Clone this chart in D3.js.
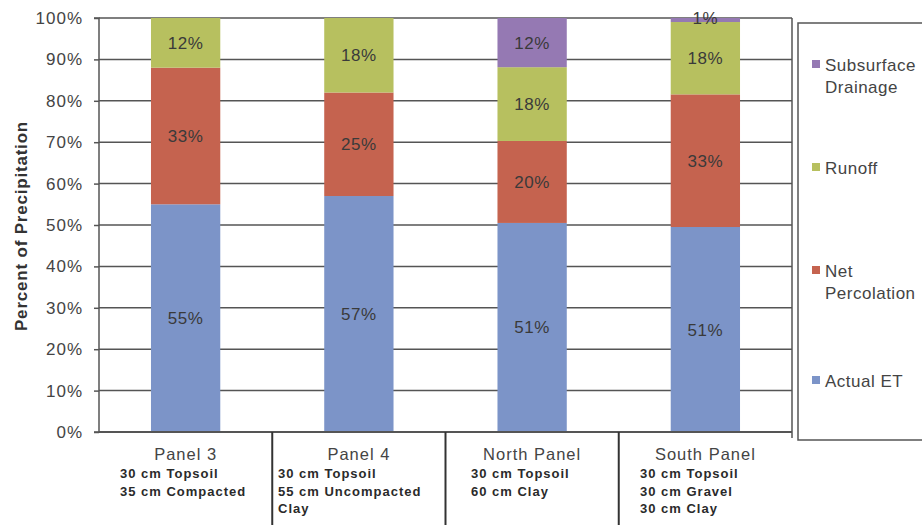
<!DOCTYPE html>
<html><head><meta charset="utf-8">
<script src="https://cdn.jsdelivr.net/npm/d3@7"></script>
<style>body{margin:0;background:#fff}svg{display:block;font-family:"Liberation Sans",Arial,sans-serif}</style>
</head><body><svg id="c" width="922" height="525"></svg>
<script>
const categories = ["Panel 3", "Panel 4", "North Panel", "South Panel"];
const subLabels = [
  ["30 cm Topsoil", "35 cm Compacted"],
  ["30 cm Topsoil", "55 cm Uncompacted", "Clay"],
  ["30 cm Topsoil", "60 cm Clay"],
  ["30 cm Topsoil", "30 cm Gravel", "30 cm Clay"]
];
const seriesNames = ["Actual ET", "Net Percolation", "Runoff", "Subsurface Drainage"];
const actualET = [55, 57, 51, 51];
const netPercolation = [33, 25, 20, 33];
const runoff = [12, 18, 18, 18];
const subsurfaceDrainage = [0, 0, 12, 1];
const yTicks = [0, 0.1, 0.2, 0.3, 0.4, 0.5, 0.6, 0.7, 0.8, 0.9, 1.0];
const colors = ["#7c94c8", "#c5634f", "#b7c05f", "#9579b3"];

const rows = categories.map((c, i) => ({
  cat: c,
  "Actual ET": actualET[i],
  "Net Percolation": netPercolation[i],
  "Runoff": runoff[i],
  "Subsurface Drainage": subsurfaceDrainage[i]
}));
const stacked = d3.stack().keys(seriesNames).offset(d3.stackOffsetExpand)(rows);

const svg = d3.select("#c");
const L = 99, R = 792, T = 18, B = 432;
const x = d3.scaleBand().domain(categories).range([L, R]).paddingInner(0.6).paddingOuter(0.3);
const y = d3.scaleLinear().domain([0, 1]).range([B, T]);
const gridColor = "#555";

// gridlines
svg.append("g").selectAll("line").data(yTicks.slice(1)).join("line")
  .attr("x1", L).attr("x2", R).attr("y1", d => y(d)).attr("y2", d => y(d))
  .attr("stroke", gridColor).attr("stroke-width", 1.5);

// bars
const sg = svg.append("g").selectAll("g").data(stacked).join("g")
  .attr("fill", (d, i) => colors[i]);
sg.selectAll("rect").data(d => d.map(p => ({p, key: d.key}))).join("rect")
  .attr("x", d => x(d.p.data.cat))
  .attr("width", x.bandwidth())
  .attr("y", d => y(d.p[1]))
  .attr("height", d => Math.max(0, y(d.p[0]) - y(d.p[1])));
// labels
sg.selectAll("text").data(d => d.map(p => ({p, key: d.key}))).join("text")
  .filter(d => d.p.data[d.key] > 0)
  .attr("x", d => x(d.p.data.cat) + x.bandwidth() / 2)
  .attr("y", d => {
    const mid = (y(d.p[0]) + y(d.p[1])) / 2;
    return d.p.data[d.key] < 3 ? y(1) + 6 : mid + 6;
  })
  .attr("text-anchor", "middle").attr("font-size", 17).attr("letter-spacing", 0.5).attr("fill", "#3a3a3a")
  .text(d => d.p.data[d.key] + "%");

// y axis
const ya = svg.append("g").attr("transform", `translate(${L},0)`)
  .call(d3.axisLeft(y).tickValues(yTicks).tickFormat(d3.format(".0%")).tickSize(5).tickPadding(11));
ya.select(".domain").attr("stroke", gridColor).attr("stroke-width", 1.5).attr("d", `M-5,${T}H0V${B}H-5`);
ya.selectAll(".tick line").attr("stroke", gridColor).attr("stroke-width", 1.5);
ya.selectAll(".tick text").attr("font-size", 17).attr("letter-spacing", 1).attr("fill", "#444")
  .attr("font-family", "Liberation Sans, Arial, sans-serif");

// right border line and x axis
svg.append("line").attr("x1", R).attr("x2", R).attr("y1", T).attr("y2", B + 6)
  .attr("stroke", gridColor).attr("stroke-width", 1.5);
svg.append("line").attr("x1", L).attr("x2", R).attr("y1", B).attr("y2", B)
  .attr("stroke", gridColor).attr("stroke-width", 2);
// category separators
const step = x.step();
const seps = categories.slice(1).map(c => x(c) - x.paddingInner() * step / 2);
svg.append("g").selectAll("line").data(seps).join("line")
  .attr("x1", d => d).attr("x2", d => d).attr("y1", B).attr("y2", 525)
  .attr("stroke", "#333").attr("stroke-width", 2);

// category labels
const subX = [120, 278, 471, 640];
const cg = svg.append("g").selectAll("g").data(categories).join("g");
cg.append("text").attr("x", d => x(d) + x.bandwidth() / 2).attr("y", 460)
  .attr("text-anchor", "middle").attr("font-size", 16.5).attr("letter-spacing", 1).attr("fill", "#444").text(d => d);
cg.each(function(d, i) {
  d3.select(this).selectAll("text.sub").data(subLabels[i]).join("text").attr("class", "sub")
    .attr("x", subX[i])
    .attr("y", (s, j) => 478 + j * 17.5)
    .attr("font-size", 13).attr("letter-spacing", 1).attr("font-weight", "bold").attr("fill", "#2a2a2a").text(s => s);
});

// y title
svg.append("text").attr("transform", "translate(27,226) rotate(-90)")
  .attr("text-anchor", "middle").attr("font-size", 17).attr("letter-spacing", 0.8).attr("font-weight", "bold").attr("fill", "#333")
  .text("Percent of Precipitation");

// legend
svg.append("rect").attr("x", 798).attr("y", 23).attr("width", 140).attr("height", 417)
  .attr("fill", "none").attr("stroke", "#555").attr("stroke-width", 1.5);
const legendItems = [
  {lines: ["Subsurface", "Drainage"], y: 71, c: 3},
  {lines: ["Runoff"], y: 174, c: 2},
  {lines: ["Net", "Percolation"], y: 277, c: 1},
  {lines: ["Actual ET"], y: 387, c: 0}
];
const lg = svg.append("g").selectAll("g").data(legendItems).join("g");
lg.append("rect").attr("x", 812).attr("y", d => d.y - 11).attr("width", 8).attr("height", 8)
  .attr("fill", d => colors[d.c]);
lg.each(function(d) {
  d3.select(this).selectAll("text").data(d.lines).join("text")
    .attr("x", 825).attr("y", (s, j) => d.y + j * 22)
    .attr("font-size", 17).attr("letter-spacing", 0.5).attr("fill", "#444").text(s => s);
});
</script></body></html>
